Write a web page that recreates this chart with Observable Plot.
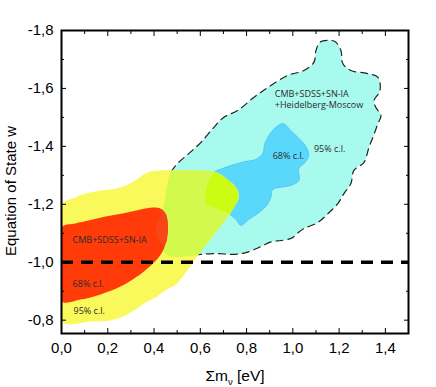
<!DOCTYPE html>
<html><head><meta charset="utf-8">
<script src="https://cdn.jsdelivr.net/npm/d3@7"></script>
<script src="https://cdn.jsdelivr.net/npm/@observablehq/plot@0.6"></script>
<style>body{margin:0;background:#fff} svg{display:block}</style>
</head><body><div id="chart"></div>
<script>
// [sum of neutrino masses (eV), equation of state w]
const cmb95 = [[0.000,-1.196],[0.061,-1.224],[0.104,-1.237],[0.169,-1.248],[0.234,-1.254],[0.277,-1.265],[0.320,-1.282],[0.355,-1.303],[0.385,-1.313],[0.429,-1.317],[0.494,-1.317],[0.580,-1.317],[0.654,-1.313],[0.688,-1.303],[0.723,-1.282],[0.758,-1.254],[0.766,-1.223],[0.745,-1.189],[0.714,-1.151],[0.667,-1.103],[0.619,-1.054],[0.580,-1.013],[0.550,-0.978],[0.524,-0.951],[0.494,-0.923],[0.450,-0.903],[0.407,-0.878],[0.364,-0.861],[0.320,-0.837],[0.264,-0.813],[0.212,-0.799],[0.126,-0.795],[0.000,-0.795]];
const cmb68 = [[0.000,-1.120],[0.061,-1.134],[0.117,-1.144],[0.190,-1.158],[0.264,-1.168],[0.342,-1.182],[0.394,-1.189],[0.429,-1.185],[0.450,-1.168],[0.459,-1.137],[0.459,-1.103],[0.450,-1.065],[0.437,-1.037],[0.416,-1.013],[0.377,-0.982],[0.320,-0.947],[0.255,-0.916],[0.169,-0.889],[0.082,-0.871],[0.000,-0.865]];
const hm95 = [[0.472,-1.020],[0.442,-1.037],[0.433,-1.065],[0.407,-1.120],[0.429,-1.161],[0.442,-1.196],[0.455,-1.254],[0.468,-1.303],[0.502,-1.341],[0.550,-1.375],[0.602,-1.413],[0.658,-1.465],[0.701,-1.500],[0.762,-1.524],[0.831,-1.569],[0.892,-1.603],[0.978,-1.645],[1.048,-1.662],[1.091,-1.690],[1.100,-1.731],[1.117,-1.759],[1.147,-1.766],[1.182,-1.762],[1.208,-1.731],[1.216,-1.686],[1.251,-1.662],[1.320,-1.652],[1.368,-1.638],[1.377,-1.593],[1.351,-1.558],[1.359,-1.534],[1.381,-1.507],[1.368,-1.479],[1.346,-1.431],[1.329,-1.396],[1.307,-1.344],[1.264,-1.317],[1.251,-1.272],[1.221,-1.237],[1.195,-1.203],[1.152,-1.168],[1.108,-1.137],[1.045,-1.115],[1.020,-1.100],[0.997,-1.084],[0.950,-1.075],[0.909,-1.071],[0.853,-1.051],[0.797,-1.033],[0.736,-1.027],[0.680,-1.030],[0.602,-1.027],[0.537,-1.020]];
const hm68 = [[0.658,-1.310],[0.636,-1.282],[0.623,-1.241],[0.623,-1.199],[0.667,-1.186],[0.723,-1.168],[0.758,-1.144],[0.775,-1.127],[0.810,-1.148],[0.848,-1.168],[0.887,-1.196],[0.905,-1.224],[0.913,-1.251],[0.991,-1.265],[1.026,-1.282],[1.026,-1.324],[1.052,-1.344],[1.069,-1.369],[1.056,-1.400],[1.022,-1.431],[0.991,-1.455],[0.957,-1.479],[0.913,-1.455],[0.879,-1.410],[0.870,-1.375],[0.840,-1.355],[0.797,-1.348],[0.745,-1.337],[0.697,-1.324]];
// overlaps of the two analyses
const overlap95 = [[0.476,-1.313],[0.580,-1.317],[0.654,-1.313],[0.688,-1.303],[0.723,-1.282],[0.758,-1.254],[0.766,-1.223],[0.745,-1.189],[0.714,-1.151],[0.667,-1.103],[0.619,-1.054],[0.593,-1.027],[0.537,-1.020],[0.472,-1.020],[0.442,-1.037],[0.433,-1.065],[0.407,-1.120],[0.429,-1.161],[0.442,-1.196],[0.455,-1.254],[0.468,-1.303]];
const overlap95x68 = [[0.658,-1.310],[0.688,-1.303],[0.723,-1.282],[0.758,-1.254],[0.766,-1.223],[0.745,-1.189],[0.727,-1.168],[0.667,-1.186],[0.623,-1.199],[0.623,-1.241],[0.636,-1.282]];
const overlap68x95 = [[0.429,-1.185],[0.450,-1.168],[0.459,-1.137],[0.459,-1.103],[0.450,-1.065],[0.433,-1.065],[0.407,-1.120],[0.429,-1.161]];
const referenceW = [-1.0];
const xMajor = [0,0.2,0.4,0.6,0.8,1.0,1.2,1.4];
const xMinor = [0.1,0.3,0.5,0.7,0.9,1.1,1.3];
const yMajor = [-1.8,-1.6,-1.4,-1.2,-1.0,-0.8];
const yMinor = [-1.7,-1.5,-1.3,-1.1,-0.9];
const labelText = ["CMB+SDSS+SN-IA","68% c.l.","95% c.l.","CMB+SDSS+SN-IA","+Heidelberg-Moscow","68% c.l.","95% c.l."];
const labelX = [0.048,0.048,0.052,0.922,0.922,0.913,1.091];
const labelW = [-1.075,-0.923,-0.833,-1.582,-1.541,-1.368,-1.392];

const labels = labelText.map((t,i) => ({t, x: labelX[i], w: labelW[i]}));
const pts = a => a.map(([x,w]) => ({x, w}));
const fmt = d => d.toFixed(1).replace(".", ",");
const region = (a, fill, o = {}) => Plot.line(pts(a), {x: "x", y: "w", fill, stroke: "none", curve: "catmull-rom-closed", clip: true, ...o});
const blank = () => "";

const chart = Plot.plot({
  width: 436, height: 387,
  marginLeft: 61, marginRight: 28, marginTop: 30, marginBottom: 54,
  x: {domain: [0, 1.5]},
  y: {domain: [-0.754, -1.8]},
  style: {fontFamily: "'Liberation Sans', Arial, sans-serif", background: "#fff", color: "#000"},
  marks: [
    region(hm95, "#a8faee", {stroke: "#222", strokeWidth: 1.2, strokeDasharray: "7,5"}),
    region(hm68, "#5ad8fb", {stroke: "#4cbff0", strokeWidth: 0.8}),
    region(cmb95, "#f9f95b"),
    region(overlap95, "#d3f94c"),
    region(overlap95x68, "#cbfc14", {curve: "linear-closed"}),
    region(cmb68, "#ff3b0a"),
    region(overlap68x95, "#f8461a"),
    Plot.ruleY(referenceW, {stroke: "#000", strokeWidth: 3.5, strokeDasharray: "12,8"}),
    Plot.text(labels, {x: "x", y: "w", text: "t", textAnchor: "start", fontSize: 9, fontFamily: "'Open Sans', sans-serif", fill: "#2b2b2b"}),
    Plot.frame({stroke: "#000", strokeWidth: 2}),
    Plot.axisX({ticks: xMajor, tickSize: 0, tickPadding: 9, tickFormat: fmt, fontSize: 15, label: null}),
    Plot.axisX({ticks: xMajor, tickSize: -5, tickFormat: blank, label: null}),
    Plot.axisX({ticks: xMinor, tickSize: -3, tickFormat: blank, label: null}),
    Plot.axisX({anchor: "top", ticks: xMajor, tickSize: -5, tickFormat: blank, label: null}),
    Plot.axisX({anchor: "top", ticks: xMinor, tickSize: -3, tickFormat: blank, label: null}),
    Plot.axisY({ticks: yMajor, tickSize: 0, tickPadding: 8, tickFormat: fmt, fontSize: 15, label: null}),
    Plot.axisY({ticks: yMajor, tickSize: -5, tickFormat: blank, label: null}),
    Plot.axisY({ticks: yMinor, tickSize: -3, tickFormat: blank, label: null}),
    Plot.axisY({anchor: "right", ticks: yMajor, tickSize: -5, tickFormat: blank, label: null}),
    Plot.axisY({anchor: "right", ticks: yMinor, tickSize: -3, tickFormat: blank, label: null}),
    Plot.text(["Equation of State w"], {frameAnchor: "left", textAnchor: "middle", lineAnchor: "middle", rotate: -90, dx: -50, dy: 9, fontSize: 15, fill: "#000"}),
    Plot.text(["Σmν [eV]"], {frameAnchor: "bottom", textAnchor: "middle", lineAnchor: "middle", dy: 43, fontSize: 15.5, fill: "#000"})
  ]
});
document.getElementById("chart").appendChild(chart);
// subscript for the neutrino index
chart.querySelectorAll("text").forEach(t => {
  if (t.textContent === "Σmν [eV]") {
    t.textContent = "";
    const ns = "http://www.w3.org/2000/svg";
    const parts = [["Σm", null, null], ["ν", "9.5", "4"], [" [eV]", null, "-4"]];
    for (const [s, fs, dy] of parts) {
      const sp = document.createElementNS(ns, "tspan");
      sp.textContent = s;
      if (fs) sp.setAttribute("font-size", fs);
      if (dy) sp.setAttribute("dy", dy);
      t.appendChild(sp);
    }
  }
});
</script>
</body></html>
